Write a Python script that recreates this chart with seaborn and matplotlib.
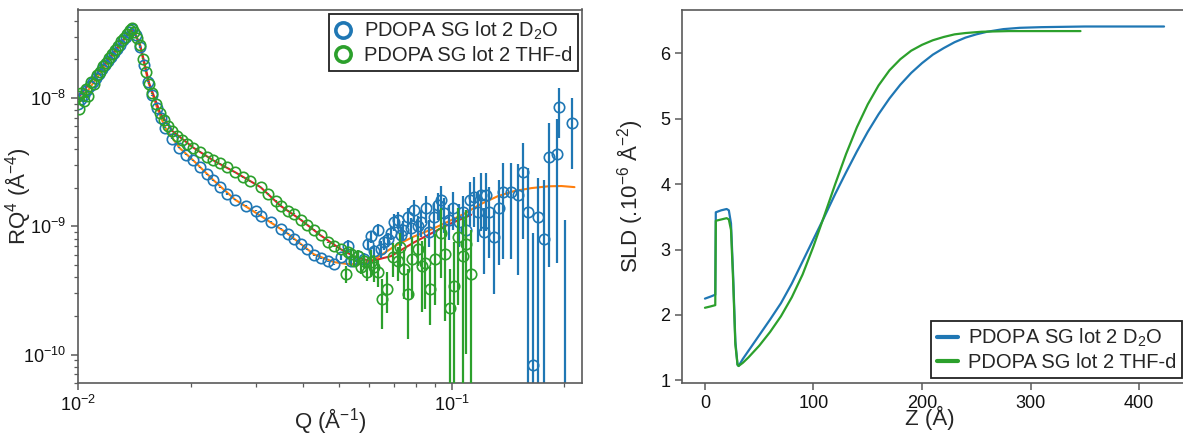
import numpy as np
import matplotlib
matplotlib.use("Agg")
import matplotlib.pyplot as plt
from matplotlib.lines import Line2D
import seaborn as sns

# ---- reflectivity data, D2O (Q in 1/A, RQ^4 in A^-4, relative error) ----
d2o_q = [0.01000, 0.01019, 0.01038, 0.01057, 0.01077, 0.01097, 0.01118, 0.01138, 0.01160, 0.01181,
         0.01204, 0.01226, 0.01249, 0.01273, 0.01296, 0.01320, 0.01345, 0.01370, 0.01393, 0.01431,
         0.01467, 0.01504, 0.01541, 0.01580, 0.01629, 0.01670, 0.01712, 0.01787, 0.01866, 0.01949,
         0.02035, 0.02125, 0.02219, 0.02303, 0.02404, 0.02511, 0.02638, 0.02807, 0.02985, 0.03078,
         0.03274, 0.03483, 0.03637, 0.03775, 0.03941, 0.04090, 0.04271, 0.04460, 0.04658, 0.04834,
         0.05047, 0.05270, 0.05368, 0.05606, 0.05817, 0.05964, 0.06075, 0.06187, 0.06343, 0.06462,
         0.06584, 0.06748, 0.06874, 0.07003, 0.07178, 0.07311, 0.07403, 0.07634, 0.07777, 0.07923,
         0.08120, 0.08273, 0.08533, 0.08692, 0.08964, 0.09189, 0.09362, 0.09537, 0.09834, 0.1008,
         0.1046, 0.1072, 0.1092, 0.1120, 0.1148, 0.1177, 0.1198, 0.1221, 0.1236, 0.1259,
         0.1299, 0.1340, 0.1373, 0.1442, 0.1506, 0.1553, 0.1602, 0.1653, 0.1704, 0.1768,
         0.1824, 0.1906, 0.1941, 0.2014, 0.2103]
d2o_r = [8.94e-9, 9.77e-9, 1.049e-8, 1.146e-8, 1.23e-8, 1.344e-8, 1.443e-8, 1.549e-8, 1.692e-8, 1.816e-8,
         1.95e-8, 2.092e-8, 2.245e-8, 2.411e-8, 2.588e-8, 2.827e-8, 2.983e-8, 3.258e-8, 3.437e-8, 3.09e-8,
         2.498e-8, 1.816e-8, 1.344e-8, 1.049e-8, 8.33e-9, 6.98e-9, 5.85e-9, 4.81e-9, 4.10e-9, 3.62e-9,
         3.26e-9, 2.88e-9, 2.54e-9, 2.29e-9, 2.02e-9, 1.784e-9, 1.605e-9, 1.443e-9, 1.32e-9, 1.209e-9,
         1.087e-9, 9.6e-10, 8.78e-10, 7.9e-10, 7.23e-10, 6.62e-10, 5.95e-10, 5.64e-10, 5.35e-10, 5.07e-10,
         5.74e-10, 6.98e-10, 5.35e-10, 5.85e-10, 5.54e-10, 7.23e-10, 8.33e-10, 6.39e-10, 9.43e-10, 6.62e-10,
         7.49e-10, 7.9e-10, 8.94e-10, 1.087e-9, 1.126e-9, 8.48e-10, 9.43e-10, 1.187e-9, 9.77e-10, 1.344e-9,
         1.012e-9, 1.087e-9, 1.393e-9, 9.1e-10, 1.187e-9, 1.469e-9, 1.605e-9, 1.274e-9, 1.126e-9, 1.393e-9,
         1.087e-9, 1.297e-9, 9.43e-10, 1.605e-9, 1.692e-9, 1.297e-9, 1.753e-9, 9.1e-10, 1.753e-9, 1.297e-9,
         8.18e-10, 1.393e-9, 1.848e-9, 1.848e-9, 1.753e-9, 2.63e-9, 1.297e-9, 8.33e-11, 1.187e-9, 7.9e-10,
         3.44e-9, 3.69e-9, 8.48e-9, 4.0e-11, 6.39e-9]
d2o_rel = [0.01] * 50 + [
    0.05, 0.11, 0.07, 0.09, 0.11, 0.09, 0.11, 0.11, 0.11, 0.15,
    0.13, 0.13, 0.13, 0.15, 0.15, 0.17, 0.17, 0.17, 0.19, 0.19,
    0.19, 0.24, 0.24, 0.24, 0.28, 0.24, 0.28, 0.30, 0.30, 0.33,
    0.37, 0.33, 0.42, 0.37, 0.42, 0.42, 0.48, 0.53, 0.48, 0.56,
    0.64, 0.64, 0.70, 0.70, 0.76, 0.70, 1.2, 9.7, 1.0, 1.9,
    0.86, 0.86, 0.42, 27.0, 0.56]

# ---- reflectivity data, THF-d ----
thf_q = [0.01000, 0.01006, 0.01019, 0.01038, 0.01051, 0.01064, 0.01084, 0.01104, 0.01124, 0.01146,
         0.01167, 0.01189, 0.01211, 0.01234, 0.01257, 0.01280, 0.01304, 0.01329, 0.01354, 0.01379,
         0.01396, 0.01413, 0.01440, 0.01467, 0.01495, 0.01522, 0.01551, 0.01580, 0.01619, 0.01660,
         0.01702, 0.01744, 0.01787, 0.01843, 0.01901, 0.01960, 0.02035, 0.02125, 0.02219, 0.02303,
         0.02404, 0.02511, 0.02638, 0.02771, 0.02893, 0.03078, 0.03215, 0.03377, 0.03483, 0.03637,
         0.03775, 0.03941, 0.04090, 0.04271, 0.04460, 0.04658, 0.04834, 0.05047, 0.05270,
         0.05205, 0.05368, 0.05467, 0.05606, 0.05708, 0.05817, 0.05928, 0.06075, 0.06187, 0.06343,
         0.06501, 0.06706, 0.06959, 0.07178, 0.07265, 0.07447, 0.07634, 0.07825, 0.08120, 0.08322,
         0.08478, 0.08746, 0.09020, 0.09362, 0.09594, 0.09896, 0.1014, 0.1040, 0.1072, 0.1092,
         0.1127]
thf_r = [1.03e-8, 8.18e-9, 1.087e-8, 9.43e-9, 1.166e-8, 1.03e-8, 1.344e-8, 1.297e-8, 1.522e-8, 1.605e-8,
         1.784e-8, 1.882e-8, 2.055e-8, 2.207e-8, 2.368e-8, 2.543e-8, 2.779e-8, 2.93e-8, 3.145e-8, 3.378e-8,
         3.499e-8, 3.258e-8, 2.93e-8, 2.588e-8, 2.02e-8, 1.605e-8, 1.297e-8, 1.087e-8, 8.94e-9, 7.62e-9,
         6.74e-9, 6.06e-9, 5.54e-9, 5.07e-9, 4.73e-9, 4.40e-9, 4.10e-9, 3.82e-9, 3.50e-9, 3.26e-9,
         3.09e-9, 2.88e-9, 2.63e-9, 2.41e-9, 2.246e-9, 2.02e-9, 1.784e-9, 1.577e-9, 1.443e-9, 1.32e-9,
         1.252e-9, 1.126e-9, 1.03e-9, 9.43e-10, 8.48e-10, 7.49e-10, 6.98e-10, 6.62e-10, 6.28e-10,
         4.25e-10, 6.06e-10, 5.35e-10, 5.85e-10, 4.81e-10, 5.35e-10, 4.40e-10, 5.26e-10, 4.81e-10, 4.40e-10,
         2.73e-10, 3.26e-10, 5.74e-10, 5.35e-10, 6.86e-10, 4.64e-10, 2.98e-10, 5.54e-10, 6.62e-10, 4.90e-10,
         5.16e-10, 3.26e-10, 5.54e-10, 8.94e-10, 6.06e-10, 2.29e-10, 3.44e-10, 8.18e-10, 5.85e-10, 7.23e-10,
         4.25e-10]
thf_rel = [0.01] * 59 + [
    0.15, 0.07, 0.09, 0.11, 0.11, 0.11, 0.15, 0.24, 0.24, 0.24,
    0.42, 0.35, 0.30, 0.30, 0.30, 0.42, 0.56, 0.50, 0.26, 0.56,
    0.56, 0.48, 0.56, 0.56, 0.70, 1.03, 1.2, 0.70, 1.03, 0.86,
    1.2]

# ---- fitted curves ----
d2o_fit_q = [0.01000, 0.01393, 0.01431, 0.01467, 0.01541, 0.01629, 0.01712, 0.01866, 0.02035, 0.02303,
             0.02638, 0.03078, 0.03637, 0.04271, 0.04834, 0.05270, 0.05708, 0.06075, 0.06462, 0.07090,
             0.07923, 0.08801, 0.09772, 0.1079, 0.1198, 0.1331, 0.1469, 0.1633, 0.1813, 0.1965, 0.2129]
d2o_fit_r = [8.94e-9, 3.437e-8, 3.09e-8, 2.498e-8, 1.344e-8, 8.33e-9, 5.85e-9, 4.10e-9, 3.26e-9, 2.29e-9,
             1.605e-9, 1.209e-9, 8.78e-10, 6.06e-10, 5.26e-10, 5.07e-10, 5.07e-10, 5.35e-10, 5.95e-10, 7.10e-10,
             8.33e-10, 9.43e-10, 1.087e-9, 1.252e-9, 1.495e-9, 1.722e-9, 1.882e-9, 1.985e-9, 2.05e-9, 2.06e-9, 2.02e-9]
thf_fit_q = [0.01000, 0.01396, 0.01467, 0.01551, 0.01660, 0.01787, 0.02035, 0.02303, 0.02638, 0.03078,
             0.03483, 0.03941, 0.04460, 0.05047, 0.05535, 0.06075, 0.06874, 0.07923, 0.09772, 0.1127]
thf_fit_r = [9.95e-9, 3.50e-8, 2.588e-8, 1.297e-8, 7.62e-9, 5.54e-9, 4.10e-9, 3.26e-9, 2.63e-9, 2.02e-9,
             1.443e-9, 1.126e-9, 8.48e-10, 6.62e-10, 5.74e-10, 5.35e-10, 5.85e-10, 7.49e-10, 1.03e-9, 1.23e-9]

# ---- SLD profiles (Z in A, SLD in 1e-6 A^-2) ----
d2o_z = [0, 5, 9.5, 10, 15, 20, 22, 24, 26, 28, 30, 31, 35, 40, 50, 60, 70, 80, 90, 100,
         110, 120, 130, 140, 150, 160, 170, 180, 190, 200, 210, 220, 230, 240, 250, 260, 275, 290,
         310, 350, 423]
d2o_sld = [2.25, 2.28, 2.31, 3.57, 3.60, 3.62, 3.60, 3.40, 2.60, 1.60, 1.24, 1.22, 1.33, 1.45, 1.69,
           1.93, 2.18, 2.48, 2.82, 3.16, 3.50, 3.85, 4.18, 4.50, 4.80, 5.07, 5.31, 5.52, 5.70, 5.85,
           5.98, 6.08, 6.17, 6.24, 6.29, 6.33, 6.37, 6.39, 6.40, 6.41, 6.41]
thf_z = [0, 5, 9.5, 10, 15, 20, 22, 24, 26, 28, 30, 31, 35, 40, 50, 60, 70, 80, 90, 100,
         110, 120, 130, 140, 150, 160, 170, 180, 190, 200, 210, 220, 230, 240, 255, 280, 346]
thf_sld = [2.11, 2.13, 2.15, 3.44, 3.46, 3.48, 3.46, 3.30, 2.50, 1.55, 1.24, 1.22, 1.27, 1.35, 1.53,
           1.74, 1.98, 2.27, 2.62, 3.05, 3.52, 4.00, 4.46, 4.87, 5.22, 5.51, 5.74, 5.91, 6.04, 6.13,
           6.20, 6.25, 6.29, 6.31, 6.33, 6.34, 6.34]

labels = ["PDOPA SG lot 2 D$_2$O", "PDOPA SG lot 2 THF-d"]
c_d2o, c_thf = "#1f77b4", "#2ca02c"

sns.set_style("ticks")
plt.rcParams["font.family"] = ["Liberation Sans", "DejaVu Sans"]
plt.rcParams["mathtext.fontset"] = "custom"
plt.rcParams["mathtext.rm"] = "Liberation Sans"
plt.rcParams["mathtext.it"] = "Liberation Sans:italic"
plt.rcParams["mathtext.default"] = "regular"

spine_c = "#5a5a5a"
fig = plt.figure(figsize=(11.83, 4.34), dpi=100)
ax1 = fig.add_axes([78 / 1183, 51 / 434, 504 / 1183, 373.5 / 434])
ax2 = fig.add_axes([682 / 1183, 51 / 434, 505 / 1183, 373.5 / 434])

# left: reflectivity
ax1.set_xscale("log")
ax1.set_yscale("log")
sns.lineplot(x=d2o_fit_q, y=d2o_fit_r, ax=ax1, color="#ff7f0e", lw=1.5, sort=False, zorder=1)
sns.lineplot(x=thf_fit_q, y=thf_fit_r, ax=ax1, color="#d62728", lw=1.5, sort=False, zorder=1)
for q, r, rel, c, z in [(d2o_q, d2o_r, d2o_rel, c_d2o, 2), (thf_q, thf_r, thf_rel, c_thf, 3)]:
    q, r = np.array(q), np.array(r)
    ax1.errorbar(q, r, yerr=r * np.array(rel), fmt="o", ms=7.5, mfc="none", mec=c, mew=1.2,
                 ecolor=c, elinewidth=1.6, capsize=0, zorder=z)
ax1.set_xlim(0.01, 0.223)
ax1.set_ylim(6.0e-11, 4.9e-8)
ax1.set_xlabel("Q (Å$^{-1}$)", fontsize=16)
ax1.set_ylabel("RQ$^4$ (Å$^{-4}$)", fontsize=16)
ax1.xaxis.set_label_coords(0.5, -0.062)
ax1.yaxis.set_label_coords(-0.09, 0.5)
handles = [Line2D([], [], marker="o", ls="none", mfc="none", mec=c, mew=2.6, ms=11)
           for c in (c_d2o, c_thf)]
leg = ax1.legend(handles, labels, loc="upper right", fontsize=14.5, frameon=True, fancybox=False,
                 framealpha=1, edgecolor="#222222", borderaxespad=0.2, borderpad=0.3,
                 labelspacing=0.2, handlelength=0.8, handletextpad=0.6)
leg.get_frame().set_linewidth(1.3)

# right: SLD profiles
sns.lineplot(x=d2o_z, y=d2o_sld, ax=ax2, color=c_d2o, lw=1.6, sort=False, label=labels[0])
sns.lineplot(x=thf_z, y=thf_sld, ax=ax2, color=c_thf, lw=1.6, sort=False, label=labels[1])
ax2.set_xlim(-21.15, 444.15)
ax2.set_ylim(0.96, 6.67)
ax2.set_xticks([0, 100, 200, 300, 400])
ax2.set_yticks([1, 2, 3, 4, 5, 6])
ax2.set_xlabel("Z (Å)", fontsize=16)
ax2.set_ylabel("SLD (.10$^{-6}$ Å$^{-2}$)", fontsize=16)
ax2.xaxis.set_label_coords(0.49, -0.062)
ax2.yaxis.set_label_coords(-0.074, 0.5)
leg2 = ax2.legend(loc="lower right", fontsize=14.5, frameon=True, fancybox=False, framealpha=1,
                  edgecolor="#222222", borderaxespad=0.25, borderpad=0.3, labelspacing=0.2,
                  handlelength=1.05, handletextpad=0.45)
leg2.get_frame().set_linewidth(1.3)
for line in leg2.get_lines():
    line.set_linewidth(3)

for ax in (ax1, ax2):
    for s in ax.spines.values():
        s.set_color(spine_c)
        s.set_linewidth(1.2)
    ax.tick_params(which="major", length=5, width=1.1, color=spine_c, labelsize=13, labelcolor="#111111")
    ax.tick_params(which="minor", length=3, width=0.9, color=spine_c)

fig.savefig("out.png", dpi=100)
